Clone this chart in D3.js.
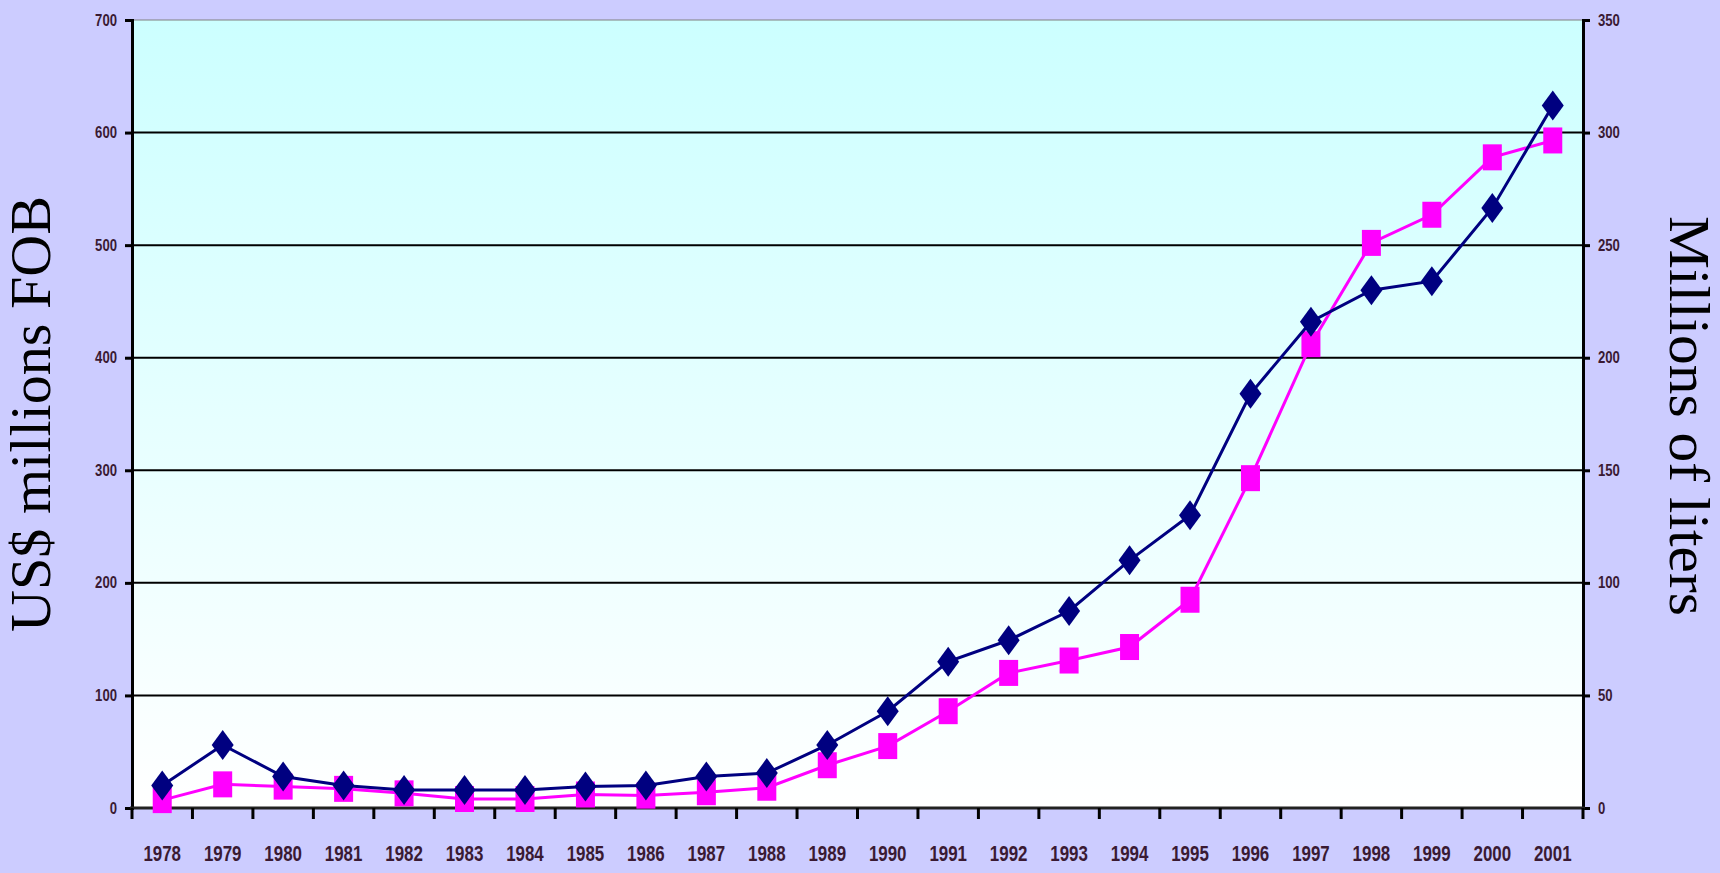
<!DOCTYPE html>
<html>
<head>
<meta charset="utf-8">
<script src="https://cdn.jsdelivr.net/npm/d3@7"></script>
<style>
  html, body { margin: 0; padding: 0; background: #ccccff; }
  svg { display: block; }
</style>
</head>
<body>
<svg id="chart"></svg>
<script>
// wine exports, 1978 - 2001
const years = ["1978", "1979", "1980", "1981", "1982", "1983", "1984", "1985", "1986", "1987", "1988", "1989",
               "1990", "1991", "1992", "1993", "1994", "1995", "1996", "1997", "1998", "1999", "2000", "2001"]
// US$ millions FOB (left axis)
const exportValue = [20, 56, 28, 20, 16, 16, 16, 19, 20, 28, 31, 56,
                     86, 130, 149, 175, 220, 260, 368, 432, 460, 468, 533, 624]
// millions of liters (right axis)
const exportVolume = [3.5, 10.5, 9.5, 8.5, 6.5, 4, 4, 6, 5.5, 7, 9, 19,
                      27.5, 43, 60, 65.5, 71.5, 92.5, 146.5, 206, 251, 263.5, 289, 296.5]
const leftTicks = [0, 100, 200, 300, 400, 500, 600, 700]
const rightTicks = [0, 50, 100, 150, 200, 250, 300, 350]

const width = 1720
const height = 873
const margins = {left: 132, right: 137, top: 20, bottom: 65}

const svg = d3.select("#chart").attr("width", width).attr("height", height)

const x = d3.scaleBand().domain(years).range([margins.left, width - margins.right])
const yLeft = d3.scaleLinear().domain([0, 700]).range([height - margins.bottom, margins.top])
const yRight = d3.scaleLinear().domain([0, 350]).range([height - margins.bottom, margins.top])
const cx = d => x(d) + x.bandwidth() / 2

// plot background gradient
let grad = svg.append("defs").append("linearGradient")
    .attr("id", "bg").attr("x1", 0).attr("y1", 0).attr("x2", 0).attr("y2", 1)
grad.append("stop").attr("offset", "0%").attr("stop-color", "#ccffff")
grad.append("stop").attr("offset", "100%").attr("stop-color", "#ffffff")

const [x0, x1] = x.range()
svg.append("rect")
    .attr("x", x0).attr("y", yLeft(700))
    .attr("width", x1 - x0).attr("height", yLeft(0) - yLeft(700))
    .attr("fill", "url(#bg)")

// gridlines
svg.append("g").selectAll("line")
    .data(leftTicks.filter(d => d > 0 && d < 700))
    .join("line")
    .attr("x1", x0).attr("x2", x1)
    .attr("y1", d => yLeft(d)).attr("y2", d => yLeft(d))
    .attr("stroke", "#000").attr("stroke-width", 2)

// top border
svg.append("line")
    .attr("x1", x0).attr("x2", x1)
    .attr("y1", yLeft(700)).attr("y2", yLeft(700))
    .attr("stroke", "#808080").attr("stroke-width", 1)

const labelFont = "'Liberation Sans', Arial, sans-serif"
const labelColor = "#3a1a33"

// squeeze tick labels so they look narrow like the original
function narrowLabels(sel, size, perChar) {
    sel.attr("font-family", labelFont).attr("font-size", size).attr("font-weight", "bold")
        .attr("fill", labelColor)
        .attr("textLength", function() { return this.textContent.length * perChar })
        .attr("lengthAdjust", "spacingAndGlyphs")
}

// left axis
let leftAxis = svg.append("g")
    .attr("transform", `translate(${x0}, 0)`)
    .call(d3.axisLeft(yLeft).tickValues(leftTicks).tickSize(7).tickPadding(8))
leftAxis.select(".domain").attr("stroke", "#000").attr("stroke-width", 3)
leftAxis.selectAll(".tick line").attr("stroke", "#000").attr("stroke-width", 3)
narrowLabels(leftAxis.selectAll(".tick text"), 16, 7.3)

// right axis
let rightAxis = svg.append("g")
    .attr("transform", `translate(${x1}, 0)`)
    .call(d3.axisRight(yRight).tickValues(rightTicks).tickSize(7).tickPadding(8))
rightAxis.select(".domain").attr("stroke", "#000").attr("stroke-width", 3)
rightAxis.selectAll(".tick line").attr("stroke", "#000").attr("stroke-width", 3)
narrowLabels(rightAxis.selectAll(".tick text"), 16, 7.3)

// bottom axis: line, ticks between categories, year labels
const yBase = yLeft(0)
svg.append("line")
    .attr("x1", x0 - 2).attr("x2", x1 + 2)
    .attr("y1", yBase).attr("y2", yBase)
    .attr("stroke", "#222").attr("stroke-width", 3)

let bounds = years.map(d => x(d)).concat([x1])
svg.append("g").selectAll("line")
    .data(bounds)
    .join("line")
    .attr("x1", d => d).attr("x2", d => d)
    .attr("y1", yBase).attr("y2", yBase + 11)
    .attr("stroke", "#000").attr("stroke-width", 3)

let yearLabels = svg.append("g").selectAll("text")
    .data(years)
    .join("text")
    .attr("x", d => cx(d))
    .attr("y", yBase + 53)
    .attr("text-anchor", "middle")
    .text(d => d)
narrowLabels(yearLabels, 22, 9.4)

// axis titles
svg.append("text")
    .attr("transform", `translate(50, ${yLeft(350)}) rotate(-90)`)
    .attr("text-anchor", "middle")
    .attr("font-family", "'Liberation Serif', 'Times New Roman', serif")
    .attr("font-size", 57)
    .attr("textLength", 436)
    .attr("lengthAdjust", "spacingAndGlyphs")
    .attr("fill", "#000")
    .text("US$ millions FOB")

svg.append("text")
    .attr("transform", `translate(1670, ${yLeft(350) + 2}) rotate(90)`)
    .attr("text-anchor", "middle")
    .attr("font-family", "'Liberation Serif', 'Times New Roman', serif")
    .attr("font-size", 56)
    .attr("textLength", 400)
    .attr("lengthAdjust", "spacingAndGlyphs")
    .attr("fill", "#000")
    .text("Millions of liters")

// volume series (magenta squares, right axis)
let volumeLine = d3.line()
    .x((d, i) => cx(years[i]))
    .y(d => yRight(d))
svg.append("path")
    .datum(exportVolume)
    .attr("d", volumeLine)
    .attr("fill", "none")
    .attr("stroke", "#ff00ff")
    .attr("stroke-width", 3)
svg.append("g").selectAll("rect")
    .data(exportVolume)
    .join("rect")
    .attr("x", (d, i) => cx(years[i]) - 9.5)
    .attr("y", d => yRight(d) - 13)
    .attr("width", 19).attr("height", 26)
    .attr("fill", "#ff00ff")

// value series (navy diamonds, left axis)
let valueLine = d3.line()
    .x((d, i) => cx(years[i]))
    .y(d => yLeft(d))
svg.append("path")
    .datum(exportValue)
    .attr("d", valueLine)
    .attr("fill", "none")
    .attr("stroke", "#000080")
    .attr("stroke-width", 3)
svg.append("g").selectAll("path")
    .data(exportValue)
    .join("path")
    .attr("transform", (d, i) => `translate(${cx(years[i])}, ${yLeft(d)})`)
    .attr("d", "M0,-15L11,0L0,15L-11,0Z")
    .attr("fill", "#000080")
</script>
</body>
</html>
